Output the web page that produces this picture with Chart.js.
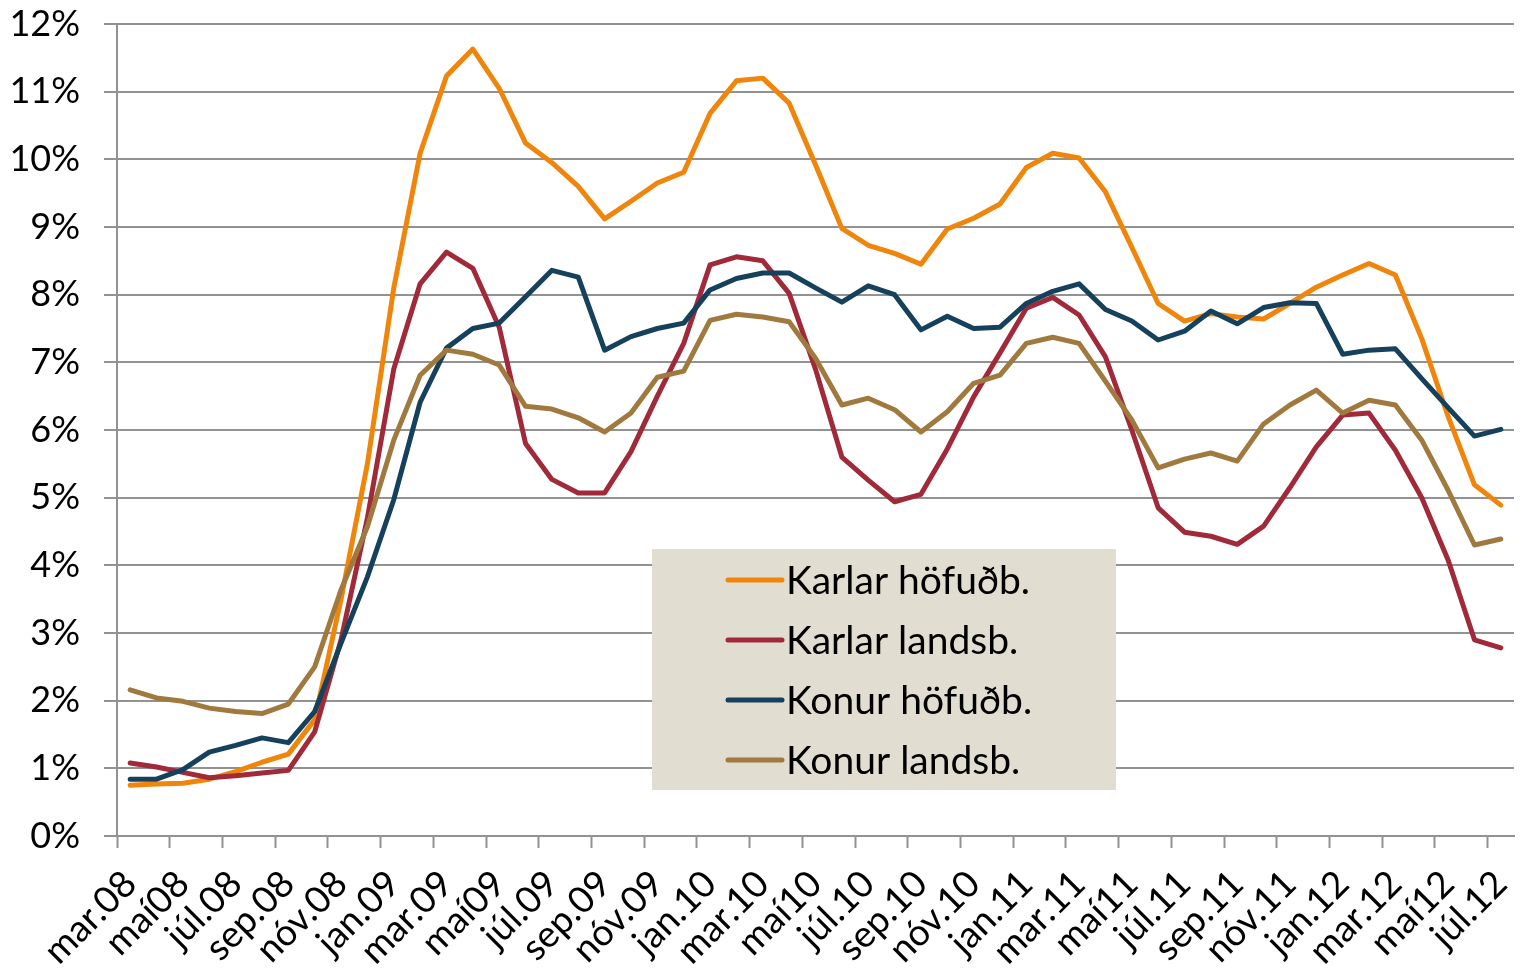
<!DOCTYPE html>
<html>
<head>
<meta charset="utf-8">
<script src="https://cdn.jsdelivr.net/npm/chart.js@4/dist/chart.umd.min.js"></script>
<style>
  html, body { margin: 0; padding: 0; background: #fff; }
  canvas { display: block; }
</style>
</head>
<body>
<canvas id="atvinnuleysi" width="1529" height="976"></canvas>
<script>
// months mar.08 - júl.12, only every second one gets a label
const months = [
    'mar.08', 'apr.08', 'maí08', 'jún.08', 'júl.08', 'ágú.08', 'sep.08', 'okt.08', 'nóv.08', 'des.08',
    'jan.09', 'feb.09', 'mar.09', 'apr.09', 'maí09', 'jún.09', 'júl.09', 'ágú.09', 'sep.09', 'okt.09', 'nóv.09', 'des.09',
    'jan.10', 'feb.10', 'mar.10', 'apr.10', 'maí10', 'jún.10', 'júl.10', 'ágú.10', 'sep.10', 'okt.10', 'nóv.10', 'des.10',
    'jan.11', 'feb.11', 'mar.11', 'apr.11', 'maí11', 'jún.11', 'júl.11', 'ágú.11', 'sep.11', 'okt.11', 'nóv.11', 'des.11',
    'jan.12', 'feb.12', 'mar.12', 'apr.12', 'maí12', 'jún.12', 'júl.12'
];

const seriesNames = ['Karlar höfuðb.', 'Karlar landsb.', 'Konur höfuðb.', 'Konur landsb.'];
const seriesColors = ['#F0850B', '#A0293A', '#16415C', '#A0793E'];

// unemployment rate, %
const karlarHofud = [
    0.75, 0.77, 0.78, 0.84, 0.95, 1.09, 1.21, 1.72, 3.5, 5.5,
    8.1, 10.09, 11.23, 11.63, 11.05, 10.24, 9.95, 9.6, 9.12, 9.38, 9.65, 9.81,
    10.68, 11.16, 11.2, 10.83, 9.92, 8.98, 8.73, 8.61, 8.45, 8.97, 9.13, 9.34,
    9.88, 10.09, 10.02, 9.52, 8.7, 7.87, 7.61, 7.72, 7.67, 7.64, 7.87, 8.11,
    8.29, 8.46, 8.29, 7.35, 6.2, 5.19, 4.89
];
const karlarLands = [
    1.08, 1.02, 0.94, 0.86, 0.89, 0.93, 0.97, 1.54, 2.9, 4.7,
    6.9, 8.16, 8.63, 8.39, 7.52, 5.8, 5.27, 5.07, 5.07, 5.68, 6.5, 7.28,
    8.44, 8.56, 8.5, 8.02, 6.9, 5.6, 5.26, 4.94, 5.05, 5.72, 6.49, 7.14,
    7.8, 7.96, 7.7, 7.08, 6.0, 4.85, 4.49, 4.43, 4.31, 4.58, 5.15, 5.75,
    6.22, 6.25, 5.7, 5.0, 4.08, 2.9, 2.78
];
const konurHofud = [
    0.84, 0.84, 0.98, 1.24, 1.34, 1.45, 1.38, 1.84, 2.85, 3.83,
    4.97, 6.41, 7.21, 7.5, 7.58, 7.97, 8.36, 8.26, 7.18, 7.38, 7.5, 7.58,
    8.07, 8.24, 8.32, 8.32, 8.1, 7.89, 8.13, 8.0, 7.48, 7.68, 7.5, 7.52,
    7.87, 8.05, 8.16, 7.78, 7.61, 7.33, 7.46, 7.76, 7.57, 7.81, 7.88, 7.87,
    7.12, 7.18, 7.2, 6.76, 6.33, 5.91, 6.01
];
const konurLands = [
    2.16, 2.04, 1.99, 1.89, 1.84, 1.81, 1.95, 2.5, 3.64, 4.57,
    5.85, 6.81, 7.18, 7.12, 6.96, 6.35, 6.31, 6.18, 5.97, 6.25, 6.78, 6.87,
    7.62, 7.71, 7.67, 7.6, 7.06, 6.37, 6.47, 6.3, 5.97, 6.27, 6.69, 6.81,
    7.28, 7.37, 7.28, 6.72, 6.15, 5.44, 5.57, 5.66, 5.54, 6.09, 6.37, 6.59,
    6.25, 6.44, 6.37, 5.85, 5.11, 4.3, 4.39
];

const FONT = 'Lato, "DejaVu Sans", sans-serif';
const GRID = '#929292';

// legend drawn as a shaded box inside the plot, like the original
const boxLegend = {
    id: 'boxLegend',
    afterDatasetsDraw(chart) {
        const ctx = chart.ctx;
        const area = chart.chartArea;
        const x0 = area.left + 535, y0 = 549, w = 464, h = 241;
        ctx.save();
        ctx.fillStyle = '#E2DDD1';
        ctx.fillRect(x0, y0, w, h);
        ctx.font = '39px ' + FONT;
        ctx.textBaseline = 'middle';
        ctx.textAlign = 'left';
        chart.data.datasets.forEach((ds, i) => {
            const y = y0 + 31 + i * 60;
            ctx.strokeStyle = ds.borderColor;
            ctx.lineWidth = 5;
            ctx.lineCap = 'round';
            ctx.beginPath();
            ctx.moveTo(x0 + 76, y);
            ctx.lineTo(x0 + 130, y);
            ctx.stroke();
            ctx.fillStyle = '#000';
            ctx.fillText(ds.label, x0 + 134, y + 1);
        });
        ctx.restore();
    }
};

function makeSet(i, values) {
    return {
        label: seriesNames[i],
        data: values,
        borderColor: seriesColors[i],
        backgroundColor: seriesColors[i],
        borderWidth: 5,
        pointRadius: 0,
        tension: 0,
        borderJoinStyle: 'round',
        borderCapStyle: 'round',
        order: 4 - i
    };
}

const chart = new Chart(document.getElementById('atvinnuleysi'), {
    type: 'line',
    data: {
        labels: months,
        datasets: [
            makeSet(0, karlarHofud),
            makeSet(1, karlarLands),
            makeSet(2, konurHofud),
            makeSet(3, konurLands)
        ]
    },
    plugins: [boxLegend],
    options: {
        responsive: false,
        animation: false,
        layout: { padding: { top: 24, right: 15, left: 0, bottom: 0 } },
        plugins: {
            legend: { display: false },
            tooltip: { enabled: false }
        },
        scales: {
            x: {
                offset: true,
                grid: {
                    offset: true,
                    drawOnChartArea: false,
                    drawTicks: true,
                    tickLength: 12,
                    tickWidth: 2,
                    tickColor: c => (c.index % 2 === 0 ? GRID : 'rgba(0,0,0,0)')
                },
                border: { color: GRID, width: 2 },
                ticks: {
                    autoSkip: false,
                    minRotation: 45,
                    maxRotation: 45,
                    padding: 14,
                    color: '#000',
                    font: { family: FONT, size: 37 },
                    callback: (v, i) => (i % 2 === 0 ? months[i] : '')
                },
                afterFit: s => {
                    s.height = 140;
                    s.paddingLeft = 0;
                    s.paddingRight = 0;
                }
            },
            y: {
                min: 0,
                max: 12,
                grid: {
                    color: GRID,
                    lineWidth: 2,
                    tickLength: 13
                },
                border: { color: GRID, width: 2 },
                ticks: {
                    stepSize: 1,
                    padding: 24,
                    color: '#000',
                    font: { family: FONT, size: 36 },
                    callback: v => v + '%'
                },
                afterFit: s => {
                    s.width = 117;
                    s.paddingTop = 0;
                    s.paddingBottom = 0;
                }
            }
        }
    }
});
</script>
</body>
</html>
